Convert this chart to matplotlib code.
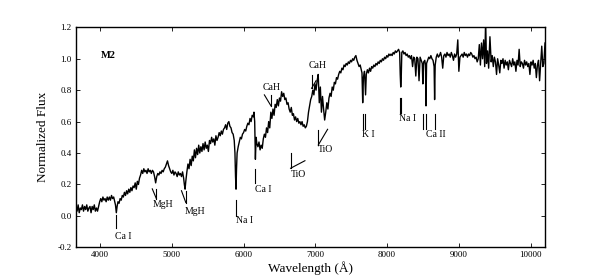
import numpy as np
import matplotlib
matplotlib.use("Agg")
import matplotlib.pyplot as plt

plt.rcParams['font.family'] = ['Liberation Serif', 'DejaVu Serif']
plt.rcParams['axes.unicode_minus'] = True

#  M2 dwarf template spectrum
wave = [
    3665, 3680, 3695, 3710, 3725, 3740, 3755, 3770, 3785, 3800,
    3815, 3830, 3845, 3860, 3875, 3890, 3905, 3920, 3935, 3950,
    3965, 3980, 3995, 4010, 4025, 4040, 4055, 4070, 4085, 4100,
    4115, 4130, 4145, 4160, 4175, 4190, 4205, 4215, 4227, 4238,
    4250, 4265, 4280, 4295, 4310, 4325, 4340, 4355, 4370, 4385,
    4400, 4415, 4430, 4445, 4460, 4475, 4490, 4505, 4520, 4535,
    4550, 4565, 4580, 4595, 4610, 4625, 4640, 4655, 4670, 4685,
    4700, 4715, 4730, 4745, 4760, 4775, 4790, 4805, 4820, 4835,
    4850, 4865, 4880, 4895, 4910, 4925, 4940, 4955, 4970, 4985,
    5000, 5015, 5030, 5045, 5060, 5075, 5090, 5105, 5120, 5135,
    5150, 5165, 5175, 5185, 5195, 5210, 5225, 5240, 5255, 5270,
    5285, 5300, 5315, 5330, 5345, 5360, 5375, 5390, 5405, 5420,
    5435, 5450, 5465, 5480, 5495, 5510, 5525, 5540, 5555, 5570,
    5585, 5600, 5615, 5630, 5645, 5660, 5675, 5690, 5705, 5720,
    5735, 5750, 5765, 5780, 5795, 5810, 5825, 5840, 5855, 5870,
    5880, 5888, 5895, 5902, 5910, 5925, 5940, 5955, 5970, 5985,
    6000, 6015, 6030, 6045, 6060, 6075, 6090, 6105, 6120, 6135,
    6145, 6155, 6165, 6175, 6185, 6200, 6215, 6230, 6245, 6260,
    6275, 6290, 6305, 6320, 6335, 6350, 6365, 6380, 6395, 6410,
    6425, 6440, 6455, 6470, 6485, 6500, 6515, 6530, 6545, 6560,
    6575, 6590, 6605, 6620, 6635, 6650, 6665, 6680, 6695, 6710,
    6725, 6740, 6755, 6770, 6785, 6800, 6815, 6830, 6845, 6860,
    6875, 6890, 6905, 6920, 6935, 6950, 6965, 6980, 6995, 7010,
    7025, 7040, 7055, 7070, 7085, 7100, 7115, 7130, 7145, 7160,
    7175, 7190, 7205, 7220, 7235, 7250, 7265, 7280, 7295, 7310,
    7325, 7340, 7355, 7370, 7385, 7400, 7415, 7430, 7445, 7460,
    7475, 7490, 7505, 7520, 7535, 7550, 7565, 7580, 7595, 7610,
    7625, 7640, 7650, 7660, 7670, 7685, 7700, 7710, 7725, 7740,
    7755, 7770, 7785, 7800, 7815, 7830, 7845, 7860, 7875, 7890,
    7905, 7920, 7935, 7950, 7965, 7980, 7995, 8010, 8025, 8040,
    8055, 8070, 8085, 8100, 8115, 8130, 8145, 8160, 8175, 8183,
    8190, 8197, 8205, 8220, 8235, 8250, 8265, 8280, 8295, 8310,
    8325, 8340, 8355, 8370, 8385, 8400, 8415, 8430, 8445, 8460,
    8475, 8490, 8498, 8510, 8525, 8535, 8542, 8550, 8565, 8580,
    8595, 8610, 8625, 8640, 8655, 8662, 8670, 8685, 8700, 8715,
    8730, 8745, 8760, 8775, 8790, 8805, 8820, 8835, 8850, 8865,
    8880, 8895, 8910, 8925, 8940, 8955, 8970, 8985, 9000, 9015,
    9030, 9045, 9060, 9075, 9090, 9105, 9120, 9135, 9150, 9165,
    9180, 9195, 9210, 9225, 9240, 9255, 9270, 9285, 9300, 9315,
    9330, 9345, 9360, 9373, 9385, 9400, 9415, 9433, 9450, 9465,
    9480, 9495, 9510, 9525, 9540, 9555, 9570, 9585, 9600, 9615,
    9630, 9645, 9660, 9675, 9690, 9705, 9720, 9735, 9750, 9765,
    9780, 9795, 9810, 9825, 9840, 9855, 9870, 9885, 9900, 9915,
    9930, 9945, 9960, 9975, 9990, 10005, 10020, 10035, 10050, 10065,
    10080, 10095, 10110, 10125, 10140, 10155, 10170, 10185, 10200,
]
flux = [
    0.06, 0.03, 0.07, 0.02, 0.05, 0.04, 0.07, 0.03, 0.06, 0.04,
    0.07, 0.03, 0.05, 0.06, 0.02, 0.06, 0.04, 0.07, 0.03, 0.05,
    0.03, 0.06, 0.09, 0.11, 0.09, 0.12, 0.10, 0.11, 0.09, 0.12,
    0.10, 0.12, 0.10, 0.13, 0.11, 0.12, 0.09, 0.07, 0.02, 0.06,
    0.09, 0.08, 0.11, 0.10, 0.13, 0.12, 0.15, 0.13, 0.16, 0.14,
    0.17, 0.15, 0.18, 0.16, 0.19, 0.18, 0.21, 0.17, 0.22, 0.20,
    0.24, 0.26, 0.29, 0.27, 0.30, 0.28, 0.29, 0.27, 0.30, 0.28,
    0.29, 0.27, 0.29, 0.28, 0.25, 0.21, 0.25, 0.27, 0.26, 0.28,
    0.27, 0.29, 0.28, 0.30, 0.31, 0.33, 0.35, 0.32, 0.30, 0.28,
    0.27, 0.29, 0.26, 0.28, 0.27, 0.25, 0.28, 0.26, 0.27, 0.25,
    0.28, 0.24, 0.20, 0.17, 0.22, 0.28, 0.33, 0.30, 0.36, 0.32,
    0.38, 0.35, 0.42, 0.37, 0.43, 0.39, 0.45, 0.40, 0.44, 0.41,
    0.46, 0.42, 0.47, 0.43, 0.45, 0.41, 0.48, 0.46, 0.50, 0.47,
    0.49, 0.45, 0.51, 0.48, 0.50, 0.53, 0.51, 0.54, 0.52, 0.55,
    0.56, 0.58, 0.55, 0.59, 0.60, 0.57, 0.56, 0.53, 0.52, 0.48,
    0.40, 0.25, 0.17, 0.30, 0.40, 0.44, 0.47, 0.50, 0.49, 0.52,
    0.53, 0.55, 0.54, 0.57, 0.59, 0.58, 0.62, 0.60, 0.64, 0.63,
    0.66, 0.60, 0.36, 0.50, 0.46, 0.44, 0.47, 0.42, 0.45, 0.43,
    0.49, 0.52, 0.50, 0.56, 0.53, 0.60, 0.56, 0.66, 0.62, 0.68,
    0.64, 0.71, 0.69, 0.74, 0.70, 0.75, 0.73, 0.79, 0.76, 0.78,
    0.74, 0.75, 0.71, 0.72, 0.68, 0.66, 0.69, 0.64, 0.65, 0.61,
    0.63, 0.60, 0.62, 0.59, 0.60, 0.58, 0.60, 0.57, 0.58, 0.56,
    0.57, 0.60, 0.66, 0.70, 0.74, 0.76, 0.80, 0.77, 0.84, 0.80,
    0.86, 0.90, 0.72, 0.82, 0.66, 0.76, 0.68, 0.61, 0.66, 0.72,
    0.68, 0.75, 0.78, 0.76, 0.82, 0.80, 0.85, 0.84, 0.88, 0.87,
    0.90, 0.92, 0.91, 0.94, 0.93, 0.96, 0.95, 0.97, 0.96, 0.98,
    0.97, 0.99, 0.98, 1.00, 0.99, 1.01, 1.02, 0.99, 0.97, 0.95,
    0.96, 0.93, 0.91, 0.72, 0.88, 0.92, 0.77, 0.90, 0.93, 0.91,
    0.94, 0.92, 0.95, 0.94, 0.96, 0.95, 0.97, 0.96, 0.98, 0.97,
    0.99, 0.98, 1.00, 0.99, 1.01, 1.00, 1.02, 1.01, 1.03, 1.02,
    1.03, 1.02, 1.04, 1.03, 1.05, 1.04, 1.05, 1.06, 1.04, 0.90,
    0.82, 0.88, 1.04, 1.05, 1.03, 1.04, 1.02, 1.03, 1.01, 1.02,
    1.00, 1.02, 0.95, 1.01, 1.00, 0.89, 1.01, 1.00, 0.86, 1.01,
    0.99, 0.97, 0.84, 0.98, 0.99, 0.96, 0.70, 0.97, 0.99, 1.01,
    1.00, 1.02, 1.00, 0.99, 0.95, 0.74, 0.96, 1.01, 1.03, 1.01,
    1.02, 1.04, 1.01, 0.94, 1.02, 1.03, 1.01, 1.04, 1.02, 1.03,
    1.01, 1.04, 1.02, 0.99, 1.03, 1.01, 1.03, 1.12, 0.92, 1.01,
    1.02, 1.03, 1.01, 1.04, 1.02, 1.03, 1.01, 1.03, 1.02, 1.04,
    1.03, 1.01, 1.02, 1.00, 1.01, 0.98, 1.00, 1.09, 0.96, 1.10,
    1.00, 1.12, 0.95, 1.25, 0.97, 1.05, 0.94, 1.14, 0.98, 1.02,
    0.95, 1.01, 0.98, 0.90, 1.00, 0.96, 0.91, 0.99, 0.97, 1.00,
    0.94, 0.99, 0.96, 0.98, 0.93, 0.99, 0.97, 0.95, 1.00, 0.96,
    0.98, 0.92, 0.99, 0.96, 1.06, 0.95, 0.98, 0.97, 0.94, 0.99,
    0.96, 0.98, 0.95, 0.97, 0.90, 0.98, 0.96, 0.99, 0.94, 0.97,
    0.88, 0.96, 0.99, 0.86, 0.97, 1.08, 0.95, 0.97, 1.10,
]

#  Single line markers: wavelength, top, bottom
line_wave = [4227, 5895, 6165, 7665, 7699, 8183, 8195, 8498, 8542, 8662]
line_top = [0.005, 0.10, 0.30, 0.65, 0.65, 0.75, 0.75, 0.65, 0.65, 0.65]
line_bot = [-0.08, 0.0, 0.207, 0.55, 0.55, 0.653, 0.653, 0.55, 0.55, 0.55]

#  Molecular band heads drawn as a vertical plus a slanted stroke
#  (head wavelength, head top, head bottom, slant end wavelength, slant end flux)
band_head = [4785, 5195, 6382, 6655, 6948, 7041]
band_top = [0.172, 0.16, 0.77, 0.398, 0.896, 0.546]
band_bot = [0.11, 0.085, 0.70, 0.303, 0.812, 0.451]
band_end_wave = [4728, 5135, 6290, 6855, 7010, 7171]
band_end_flux = [0.172, 0.16, 0.77, 0.351, 0.86, 0.551]

#  Labels
label_text = ['Ca I', 'MgH', 'MgH', 'Na I', 'Ca I', 'CaH', 'TiO', 'CaH', 'TiO',
              'K I', 'Na I', 'Ca II']
label_wave = [4210, 4740, 5185, 5892, 6162, 6262, 6665, 6900, 7035,
              7655, 8162, 8540]
label_flux = [-0.13, 0.075, 0.025, -0.03, 0.165, 0.815, 0.265, 0.955, 0.42,
              0.515, 0.62, 0.515]

fig = plt.figure(figsize=(6.05, 2.75), dpi=100)
ax = fig.add_axes([0.1256, 0.1007, 0.7752, 0.8])

ax.plot(wave, flux, color='k', lw=1.0)

for w, t, b in zip(line_wave, line_top, line_bot):
    ax.plot([w, w], [t, b], color='k', lw=0.8)

for w, t, b, we, fe in zip(band_head, band_top, band_bot, band_end_wave, band_end_flux):
    ax.plot([w, w], [t, b], color='k', lw=0.8)
    ax.plot([we, w], [fe, b], color='k', lw=0.8)

for s, w, f in zip(label_text, label_wave, label_flux):
    ax.text(w, f, s, fontsize=7, ha='left', va='center')

ax.text(4010, 1.02, 'M2', fontsize=7.5, fontweight='bold', ha='left', va='center')

ax.set_xlim(3665, 10200)
ax.set_ylim(-0.2, 1.2)
ax.set_xticks([4000, 5000, 6000, 7000, 8000, 9000, 10000])
ax.set_yticks([-0.2, 0.0, 0.2, 0.4, 0.6, 0.8, 1.0, 1.2])
ax.yaxis.set_major_formatter(matplotlib.ticker.FormatStrFormatter('%.1f'))
ax.tick_params(direction='in', top=True, right=True, length=3, width=0.6,
               labelsize=6.5, pad=3)
for sp in ax.spines.values():
    sp.set_linewidth(1.0)

ax.set_xlabel('Wavelength (Å)', fontsize=9.5, labelpad=1)
ax.set_ylabel('Normalized Flux', fontsize=9.5, labelpad=6)

fig.savefig('out.png', dpi=100)
